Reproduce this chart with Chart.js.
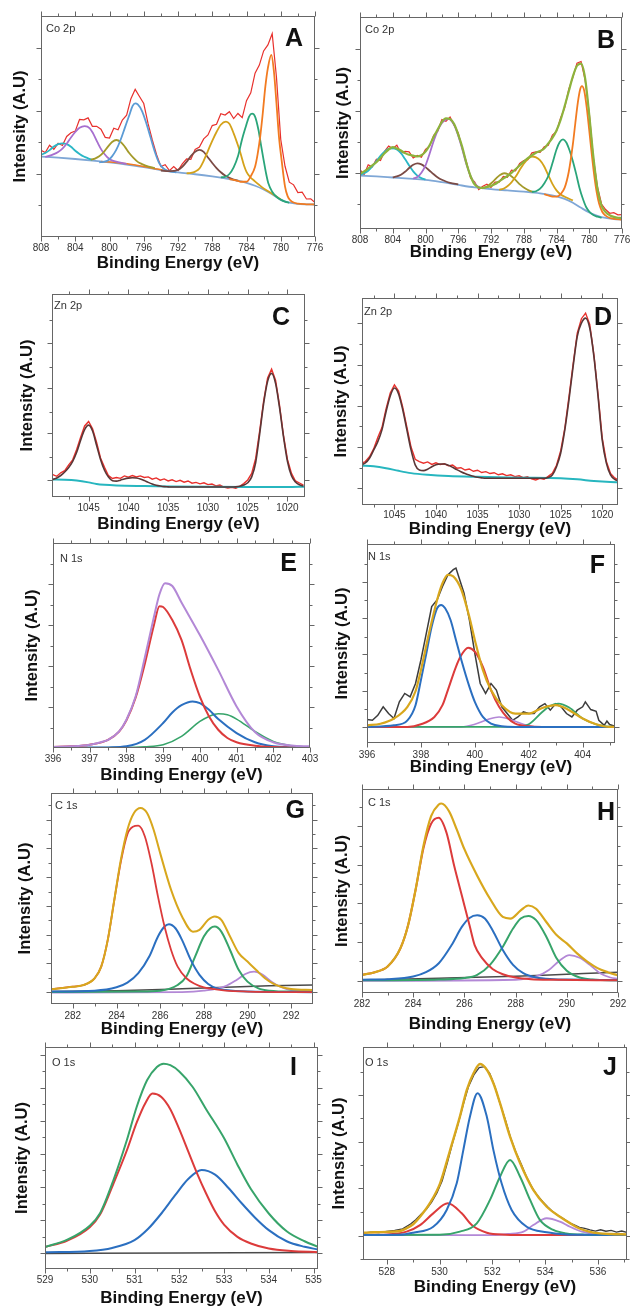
<!DOCTYPE html>
<html>
<head>
<meta charset="utf-8">
<script src="https://cdn.jsdelivr.net/npm/chart.js@4.4.1/dist/chart.umd.min.js"></script>
<style>
  html, body { margin: 0; padding: 0; background: #fff; overflow: hidden; width: 630px; height: 1309px; position: relative; }
  canvas { position: absolute; }
</style>
</head>
<body>
<script>
// ---- energy grids for the raw spectra ----
const gridCo = [808, 807.5, 807, 806.5, 806, 805.5, 805, 804.5, 804, 803.5, 803, 802.5, 802, 801.5, 801, 800.5, 800, 799.5, 799, 798.5,
  798, 797.5, 797, 796.5, 796, 795.5, 795, 794.5, 794, 793.5, 793, 792.5, 792, 791.5, 791, 790.5, 790, 789.5, 789, 788.5,
  788, 787.5, 787, 786.5, 786, 785.5, 785, 784.5, 784, 783.5, 783, 782.5, 782, 781.5, 781, 780.5, 780, 779.5, 779, 778.5,
  778, 777.5, 777, 776.5, 776];
const gridZn = [1049.5, 1049, 1048.5, 1048, 1047.5, 1047, 1046.5, 1046, 1045.5, 1045, 1044.5, 1044, 1043.5, 1043, 1042.5, 1042,
  1041.5, 1041, 1040.5, 1040, 1039.5, 1039, 1038.5, 1038, 1037.5, 1037, 1036.5, 1036, 1035.5, 1035, 1034.5, 1034, 1033.5, 1033,
  1032.5, 1032, 1031.5, 1031, 1030.5, 1030, 1029.5, 1029, 1028.5, 1028, 1027.5, 1027, 1026.5, 1026, 1025.5, 1025, 1024.5, 1024,
  1023.5, 1023, 1022.5, 1022, 1021.5, 1021, 1020.5, 1020, 1019.5, 1019, 1018.5, 1018];

// ---- tick values ----
const coMajor = [808, 804, 800, 796, 792, 788, 784, 780, 776];
const coMinor = [806, 802, 798, 794, 790, 786, 782, 778];
const znMajor = [1045, 1040, 1035, 1030, 1025, 1020];
const znMinor = [1047.5, 1042.5, 1037.5, 1032.5, 1027.5, 1022.5];
const nEMajor = [396, 397, 398, 399, 400, 401, 402, 403];
const nEMinor = [396.5, 397.5, 398.5, 399.5, 400.5, 401.5, 402.5];
const nFMajor = [396, 398, 400, 402, 404];
const nFMinor = [397, 399, 401, 403, 405];
const cMajor = [282, 284, 286, 288, 290, 292];
const cMinor = [283, 285, 287, 289, 291];
const oIMajor = [529, 530, 531, 532, 533, 534, 535];
const oIMinor = [529.5, 530.5, 531.5, 532.5, 533.5, 534.5];
const oJMajor = [528, 530, 532, 534, 536];
const oJMinor = [529, 531, 533, 535, 537];
const yTicks = {
  A: [[28.6, 57.1, 85.7], [14.3, 42.9, 71.4]],
  B: [[26.3, 55.6, 84.9], [11.7, 41.0, 70.2]],
  C: [[8.6, 31.3, 53.5, 75.7], [19.7, 41.9, 64.1, 87.2]],
  D: [[8.1, 28.0, 47.9, 67.8, 87.7], [18.0, 38.0, 57.9, 77.8]],
  E: [[20, 40, 60, 80], [10, 30, 50, 70, 90]],
  F: [[8.1, 26.2, 44.5, 62.6, 80.8], [17.2, 35.3, 53.5, 71.7, 89.9]],
  G: [[5.7, 19.3, 32.9, 46.5, 60.1, 73.7, 87.3], [12.5, 26.1, 39.7, 53.3, 66.9, 80.5, 94.1]],
  H: [[6, 25, 43.9, 62.8, 81.7], [15.5, 34.4, 53.3, 72.2, 91.1]],
  I: [[7.2, 22.1, 37, 51.9, 66.8, 81.7, 96.6], [14.6, 29.5, 44.4, 59.3, 74.2, 89.1]],
  J: [[11.3, 33.6, 55.5, 77.5], [0.4, 22.5, 44.5, 66.5, 88.4]]
};

// ---- A: Co 2p ----
const A_raw = [39.2, 38.2, 41.5, 39.7, 42.4, 41.4, 45.5, 47.2, 47.9, 53.2,
  53.0, 53.9, 50.1, 50.1, 48.8, 45.1, 44.8, 49.2, 48.5, 52.9,
  55.1, 62.6, 66.8, 63.6, 60.4, 51.4, 43.9, 37.2, 31.9, 32.7,
  30.0, 31.9, 30.1, 33.1, 35.3, 35.1, 39.6, 40.7, 44.4, 46.2,
  50.4, 51.0, 55.8, 55.2, 56.7, 53.6, 55.9, 54.0, 61.7, 65.2,
  74.1, 77.8, 84.2, 86.9, 92.0, 72.3, 44.1, 32.0, 24.8, 23.6,
  20.1, 20.3, 17.2, 17.3, 15.6];
const A_bg = [[808, 36.4], [806, 35.9], [804, 35.3], [802, 34.6], [800, 33.8], [798, 32.8], [796, 31.6], [794, 30.3], [792, 29.2],
  [790, 28.4], [788, 27.4], [786, 26.2], [785, 25.5], [784, 24.5], [783, 23.2], [782, 21.5], [781, 19.3], [780, 16.8], [779, 15.5],
  [778, 15.0], [776, 14.7]];
const A_cyan = [[808, 37.2], [807.5, 38.0], [807, 39.3], [806.5, 40.9], [806, 42.0], [805.5, 42.4], [805, 42.0], [804.5, 40.8],
  [804, 39.0], [803.5, 37.6], [803, 36.4], [802.5, 35.6], [802, 34.9]];
const A_purple = [[807.5, 36.2], [806.5, 37.5], [806, 38.5], [805.5, 40.0], [805, 42.2], [804.5, 45], [804, 47.5], [803.5, 49.4],
  [802.9, 50.2], [802.3, 49.2], [801.9, 46.8], [801.4, 42.8], [800.9, 39.2], [800.3, 36.3], [799.8, 34.8], [799, 33.9], [798, 33.0]];
const A_olive = [[802.2, 35.0], [801.7, 35.5], [801.2, 36.5], [800.7, 38.3], [800.2, 40.8], [799.7, 43.0], [799.2, 43.9], [798.7, 43.0],
  [798.2, 40.8], [797.7, 38.0], [797.2, 35.8], [796.7, 34.0], [796.2, 33.0], [795.7, 32.2], [794.7, 31.2]];
const A_steel = [[801.2, 33.8], [800.7, 34.0], [800.2, 34.6], [799.7, 36.5], [799.2, 39.5], [798.7, 44], [798.2, 49.5], [797.7, 55],
  [797.3, 59.3], [797.0, 60.5], [796.7, 60], [796.2, 57], [795.7, 51.5], [795.2, 45], [794.7, 38.5], [794.2, 33.5], [793.7, 31.0],
  [793.2, 30.0], [792.2, 29.2]];
const A_sat = [[801, 34.2], [799, 33.6], [797, 32.6], [795, 31.1], [793, 29.8]];
const A_brown = [[794, 30.0], [793, 29.8], [792, 30.4], [791.5, 31.8], [791, 34.0], [790.5, 36.6], [790, 38.6], [789.5, 39.4],
  [789, 38.5], [788.5, 36], [788, 33.5], [787.5, 31.2], [787, 29.3], [786.5, 27.8], [786, 26.8], [785.5, 26.0], [785, 25.5]];
const A_gold = [[791, 28.8], [790.5, 29.0], [790, 29.6], [789.5, 31], [789, 34.5], [788.5, 39], [788, 43.5], [787.5, 47.5], [787, 50.8],
  [786.4, 52.2], [786, 51.2], [785.5, 46.9], [785, 41.5], [784.7, 37.9], [784.3, 32.5], [784, 29.5], [783.5, 26.8], [783.2, 25.8],
  [782.5, 23.5], [782, 22], [781, 19.6], [780, 17.0]];
const A_green = [[787, 27.0], [786.5, 27.2], [786, 28.5], [785.5, 31.5], [785, 36.5], [784.5, 44.5], [784, 51], [783.7, 54.5],
  [783.35, 55.8], [783, 54.5], [782.6, 48.4], [782.3, 41.5], [782, 34.8], [781.7, 28.5], [781.45, 24.3], [781, 20.5], [780.5, 18.2],
  [780, 16.9], [779.5, 16.0], [779, 15.5]];
const A_orange = [[786, 26.2], [785, 25.4], [784.7, 25.0], [784, 25.0], [783.5, 27.5], [783, 31.8], [782.7, 37.5], [782.4, 45.4],
  [782.1, 56], [781.8, 68], [781.5, 76.5], [781.1, 82.4], [780.8, 75], [780.5, 60.5], [780.2, 45], [779.9, 34.8], [779.5, 22.8],
  [779.2, 18.5], [778.9, 16.7], [778.5, 15.6], [778, 15.1], [777, 14.8], [776, 14.7]];

// ---- B: Co 2p ----
const B_raw = [28.0, 25.7, 30.3, 29.3, 32.9, 32.3, 36.6, 39.1, 38.0, 39.5,
  35.7, 36.6, 36.4, 33.5, 34.7, 33.9, 37.5, 39.1, 44.2, 46.2,
  51.6, 50.8, 52.8, 49.0, 45.3, 37.9, 31.7, 24.1, 22.2, 18.6,
  20.2, 21.1, 19.6, 22.1, 22.1, 24.8, 24.4, 27.7, 27.4, 30.9,
  32.3, 32.7, 35.9, 36.4, 36.2, 38.8, 39.5, 44.3, 46.0, 52.4,
  57.2, 66.0, 71.5, 78.2, 79.0, 70.2, 54.7, 33.6, 20.0, 11.8,
  9.2, 7.4, 7.7, 6.7, 6.8];
const B_fit = [26.0, 27.2, 28.5, 30.0, 31.5, 33.5, 35.7, 37.5, 38.6, 38.0,
  37.0, 35.8, 35.0, 34.6, 34.2, 34.8, 36.5, 39.5, 43.5, 47.0,
  50.5, 52.2, 51.9, 49.5, 44.5, 38.5, 31.0, 25.0, 21.0, 19.6,
  19.4, 19.8, 20.3, 21.2, 22.5, 23.8, 25.0, 26.5, 28.2, 30.0,
  31.8, 33.4, 34.8, 36.0, 36.8, 38.0, 40.4, 43.0, 46.5, 51.5,
  58.0, 65.0, 72.0, 77.0, 78.0, 71.0, 53.8, 34.2, 19.0, 11.0,
  8.0, 6.5, 5.7, 5.3, 5.2];
const B_bg = [[808, 25.2], [806, 24.8], [804, 24.3], [802, 23.8], [800, 23.2], [798, 22.1], [796, 20.8], [794, 19.6], [792, 18.8],
  [790, 18.2], [788, 17.6], [786, 16.8], [784, 15.4], [783, 14.2], [782, 12.4], [781, 10.0], [780, 7.8], [779, 6.2], [778, 5.2],
  [777, 4.7], [776, 4.4]];
const B_cyan = [[808, 25.5], [807.5, 26.3], [807, 27.5], [806.5, 29.5], [806, 32], [805.5, 34.5], [805, 36.5], [804.5, 37.8], [804, 38.1],
  [803.5, 37.5], [803, 35.8], [802.5, 33], [802, 30], [801.5, 27.2], [801, 25.2], [800.5, 24], [800, 23.4]];
const B_brown = [[804, 24.4], [803.5, 24.8], [803, 25.6], [802.5, 27], [802, 28.8], [801.5, 30.3], [801, 31], [800.5, 30.5], [800, 29.2],
  [799.5, 27.5], [799, 25.8], [798.5, 24.3], [798, 23.2], [797.5, 22.4], [797, 21.8], [796, 21]];
const B_purple = [[801.5, 23.8], [801, 24.5], [800.5, 26.5], [800, 30], [799.5, 35.5], [799, 41.5], [798.5, 46.5], [798, 50],
  [797.5, 51.7], [797.2, 51.9], [796.5, 49], [796, 44], [795.5, 37.5], [795, 30.5], [794.5, 25], [794, 21.5], [793.5, 19.8], [793, 19.2]];
const B_olive = [[793.4, 19.2], [792.9, 19.5], [792.4, 20.3], [791.9, 21.8], [791.4, 23.8], [790.9, 25.5], [790.4, 26.3], [789.9, 25.8],
  [789.4, 24.5], [788.9, 22.7], [788.4, 20.8], [787.9, 19.3], [787.4, 18.2], [786.9, 17.5]];
const B_gold = [[791, 18.5], [790.5, 19.0], [790, 20.2], [789.5, 22], [789, 24.6], [788.5, 27.8], [788, 30.8], [787.5, 33], [787, 34.2],
  [786.5, 33.8], [786, 32.4], [785.5, 29.5], [785, 25.3], [784.5, 21.3], [784, 18.2], [783.5, 16.3], [783, 15.2], [782, 13.5]];
const B_green = [[787, 17.5], [786.5, 17.8], [786, 19.0], [785.5, 21.5], [785, 25], [784.5, 31], [784, 37.5], [783.6, 41], [783.2, 42.3],
  [782.8, 40.8], [782.4, 37], [782, 32], [781.6, 26], [781.2, 19.5], [780.8, 14.5], [780.4, 10.5], [780, 8.2], [779.5, 6.6], [779, 5.8],
  [778.5, 5.3]];
const B_orange = [[785.5, 16.4], [785, 15.8], [784.5, 15.3], [784, 15.3], [783.5, 16.5], [783, 19.5], [782.5, 27], [782, 40], [781.7, 50],
  [781.4, 59.5], [781.1, 66], [780.9, 67.4], [780.6, 65], [780.3, 57], [780, 46.5], [779.7, 35.5], [779.4, 25.5], [779.1, 17.5],
  [778.8, 12], [778.4, 8], [778, 6.3], [777.5, 5.2], [777, 4.8], [776, 4.4]];

// ---- C, D: Zn 2p ----
const C_raw = [11.0, 10.2, 11.9, 13.0, 15.8, 18.3, 23.4, 29.5, 35.0, 37.2,
  33.6, 27.0, 19.2, 14.6, 10.5, 9.1, 9.6, 9.2, 10.4, 9.8,
  10.6, 9.9, 10.4, 9.6, 9.9, 8.8, 9.4, 8.3, 8.9, 7.9,
  8.5, 7.6, 8.2, 7.3, 7.9, 6.8, 7.2, 6.5, 7.0, 6.1,
  6.4, 5.5, 5.9, 4.9, 4.4, 4.8, 4.3, 5.2, 6.6, 8.4,
  11.6, 19.0, 32.5, 47.3, 58.6, 63.0, 57.5, 45.1, 30.2, 18.4,
  11.6, 7.9, 6.9, 5.8];
const C_fit = [8.6, 9.4, 10.6, 12.3, 14.5, 17.5, 22, 28, 33.2, 35.4,
  32.5, 25.5, 18.5, 13.2, 9.8, 8.0, 7.8, 8.3, 8.9, 9.3,
  9.5, 9.4, 8.9, 8.1, 7.2, 6.4, 5.8, 5.4, 5.1, 5.0,
  4.9, 4.9, 4.9, 4.9, 4.9, 4.9, 4.9, 4.9, 4.9, 4.9,
  4.9, 4.9, 4.9, 4.9, 4.9, 4.9, 5.0, 5.3, 5.9, 7.0,
  9.9, 17, 31, 46, 57, 60.9, 56, 44, 29.6, 17.5,
  10.5, 7.4, 6.0, 5.4];
const C_bg = [[1049.6, 8.6], [1048, 8.5], [1046.5, 8.1], [1045, 7.2], [1044, 6.4], [1043, 6.0], [1041.5, 5.7], [1038, 5.4],
  [1035, 5.2], [1030, 5.0], [1025, 4.9], [1020, 4.9], [1017.8, 5.1]];
const D_raw = [19.5, 20.1, 21.0, 23.3, 27.1, 32.6, 37.4, 46.5, 54.1, 58.0,
  55.0, 47.3, 37.6, 28.0, 22.1, 21.0, 20.2, 20.8, 19.6, 20.4,
  19.5, 19.9, 18.9, 19.3, 17.8, 18.0, 16.9, 17.4, 16.3, 16.8,
  15.7, 16.1, 15.2, 15.6, 14.6, 15.1, 14.2, 14.6, 13.7, 14.1,
  13.2, 13.6, 12.6, 12.1, 12.9, 12.4, 13.8, 15.3, 19.2, 26.1,
  37.0, 52.3, 68.1, 83.0, 90.0, 92.7, 87.2, 72.6, 53.5, 32.4,
  21.0, 15.2, 13.1, 12.0];
const D_fit = [19.0, 19.4, 20.3, 22.6, 26.5, 30.6, 36.3, 45.2, 52.7, 56.5,
  53.7, 46.0, 36.3, 26.6, 19.4, 16.9, 16.6, 17.3, 18.5, 19.4,
  19.8, 19.8, 19.2, 18.2, 17.1, 16.1, 15.2, 14.5, 13.9, 13.4,
  13.1, 12.9, 12.9, 12.9, 12.9, 12.9, 12.9, 12.9, 12.9, 12.9,
  12.9, 12.9, 12.9, 12.9, 12.9, 12.9, 13.3, 14.5, 18.5, 25.0,
  36.3, 50.8, 66.9, 81.5, 87.9, 90.3, 85.5, 71.8, 52.4, 31.5,
  20.2, 14.5, 12.4, 11.6];
const D_bg = [[1049.5, 19.1], [1049, 19], [1047.5, 18.7], [1046, 17.8], [1044.5, 16.5], [1043, 15.4], [1041, 14.6], [1038.5, 14.0],
  [1035, 13.6], [1030, 13.2], [1025, 12.9], [1023, 12.4], [1021, 11.6], [1019, 11.1], [1018, 11.0]];

// ---- E, F: N 1s ----
const E_env = [[396, 0.5], [396.5, 0.8], [397, 1.6], [397.3, 2.8], [397.5, 4], [397.8, 8.1], [398, 13.8], [398.25, 25.1], [398.5, 44],
  [398.75, 64], [398.9, 75], [399.05, 80.4], [399.25, 79], [399.5, 71], [400, 55.1], [400.5, 38.1], [401, 20.3], [401.5, 7.8], [402, 2.8],
  [402.5, 1.2], [403, 0.8]];
const E_red = [[396, 0.5], [396.5, 0.8], [397, 1.6], [397.5, 4], [397.8, 8.0], [398, 13.5], [398.25, 24.5], [398.5, 41], [398.75, 60],
  [398.9, 69.2], [399, 68.8], [399.25, 62.4], [399.5, 52.7], [399.75, 38.1], [400, 25.1], [400.25, 15.4], [400.5, 8.9], [400.75, 4.9],
  [401, 2.8], [401.5, 1.1], [402, 0.5], [403, 0.2]];
const E_blue = [[396, 0.1], [397, 0.2], [397.5, 0.3], [398, 0.8], [398.5, 4], [399, 12.2], [399.25, 17.3], [399.5, 20.9], [399.8, 22.7],
  [400, 21.9], [400.25, 18.6], [400.5, 14.1], [401, 7.3], [401.5, 2.8], [402, 0.8], [402.5, 0.3], [403, 0.2]];
const E_green = [[396, 0.1], [398, 0.2], [398.5, 0.6], [399, 1.6], [399.5, 5.7], [400, 13], [400.25, 15.4], [400.5, 16.7], [400.75, 16.2],
  [401, 14.1], [401.5, 8.1], [402, 3.2], [402.5, 1.1], [403, 0.5]];
const F_raw = [[396, 11.8], [396.2, 11.4], [396.4, 13.9], [396.6, 18.2], [396.8, 14.8], [397, 12.3], [397.2, 20.7], [397.4, 24.9],
  [397.6, 23.2], [397.8, 29.9], [398, 41.7], [398.2, 55.1], [398.4, 68.6], [398.6, 71.9], [398.8, 78.7], [399, 84.5], [399.2, 87.1],
  [399.3, 87.9], [399.4, 83.7], [399.6, 75.3], [399.8, 61.8], [400, 45], [400.2, 29.9], [400.4, 24.9], [400.6, 29.9], [400.8, 26.6],
  [401, 18.2], [401.2, 14.8], [401.4, 11.4], [401.6, 13.1], [401.8, 15.6], [402, 14.8], [402.2, 14.8], [402.4, 18.2], [402.6, 19.8],
  [402.8, 16.5], [403, 19.8], [403.2, 18.2], [403.4, 14.8], [403.6, 13.1], [403.8, 16.5], [404, 18.2], [404.1, 20.7], [404.3, 16.8],
  [404.5, 15.9], [404.6, 11.4], [404.8, 8.9], [404.9, 11.0], [405, 9.3], [405.2, 8.4]];
const F_env = [[396, 8.9], [396.5, 9.7], [397, 12.3], [397.5, 18.2], [397.8, 26], [398, 36.6], [398.3, 55.1], [398.6, 71.9], [398.8, 80.3],
  [399, 84.5], [399.2, 83.7], [399.5, 77], [399.8, 63.2], [400, 51.8], [400.3, 36.6], [400.6, 26.6], [401, 19], [401.5, 14.8],
  [402, 14.8], [402.5, 17.6], [403, 19], [403.5, 16.5], [404, 12.3], [404.5, 9.4], [405, 8.1], [405.2, 8.1]];
const F_blue = [[396, 8.1], [397, 8.9], [397.5, 11.4], [397.8, 19], [398, 31.6], [398.2, 45], [398.4, 58.5], [398.6, 67.7], [398.75, 69.4],
  [398.9, 67.7], [399.1, 61.8], [399.3, 51.8], [399.5, 41.7], [399.8, 28.2], [400, 20.7], [400.3, 13.1], [400.6, 9.7], [401, 8.4],
  [401.5, 8.1], [405.2, 8.1]];
const F_red = [[396, 8.1], [397.5, 8.1], [398, 9.4], [398.5, 13.1], [398.8, 19], [399, 26.6], [399.3, 38.3], [399.5, 44.2], [399.75, 47.9],
  [400, 45.9], [400.3, 38.3], [400.6, 26.6], [400.9, 18.2], [401.2, 12.8], [401.5, 9.7], [402, 8.4], [402.5, 8.1], [405.2, 8.1]];
const F_purple = [[396, 8.1], [399.5, 8.1], [400, 9.4], [400.5, 11.9], [400.9, 13.1], [401.3, 11.9], [401.8, 9.4], [402.3, 8.1], [405.2, 8.1]];
const F_green = [[396, 8.1], [401.5, 8.1], [402, 9.4], [402.5, 15.6], [402.8, 18.7], [403.1, 19.8], [403.5, 17.8], [404, 12.3],
  [404.5, 9.4], [405, 8.2], [405.2, 8.1]];

// ---- G, H: C 1s ----
const G_env = [[281, 7], [282, 8.2], [282.5, 9], [283, 12.2], [283.3, 17.7], [283.6, 30.4], [283.9, 49.4], [284.2, 68.4], [284.5, 82.6],
  [284.8, 90.5], [285.1, 92.9], [285.4, 90.5], [285.7, 82.6], [286, 71.5], [286.5, 54.1], [287, 41.5], [287.5, 34.3], [287.8, 35.1],
  [288.2, 39.9], [288.5, 41.5], [288.8, 39.9], [289.2, 32], [289.6, 24.1], [290, 20.1], [290.4, 16.1], [290.8, 12.2], [291.2, 9.5],
  [291.6, 7.9], [292, 7.1], [293, 6.6]];
const G_red = [[281, 7], [282, 8.2], [282.5, 9], [283, 12.2], [283.3, 17.7], [283.6, 30.4], [283.9, 49.2], [284.2, 67.5], [284.5, 80.5],
  [284.75, 84], [285, 84.5], [285.3, 79.4], [285.6, 66.8], [285.9, 50.9], [286.2, 36.7], [286.5, 25.6], [286.8, 17.7], [287.2, 12.2],
  [287.6, 9.5], [288, 7.9], [288.5, 7], [289, 6.3], [290, 5.9], [293, 5.6]];
const G_blue = [[281, 5.9], [283, 6.3], [284, 7.9], [284.5, 10.1], [285, 14.6], [285.5, 22.5], [285.9, 32], [286.2, 36.7], [286.4, 37.8],
  [286.7, 35.9], [287, 30.4], [287.4, 20.9], [287.8, 13.8], [288.2, 9.5], [288.6, 7.4], [289, 6.6], [290, 5.9], [293, 5.6]];
const G_green = [[281, 5.7], [285, 5.9], [286, 6.3], [286.8, 9], [287.2, 13], [287.6, 22.5], [288, 32], [288.3, 35.9], [288.5, 36.7],
  [288.8, 34.3], [289.2, 25.6], [289.6, 16.1], [290, 10.6], [290.5, 7.4], [291, 6.3], [292, 5.9], [293, 5.9]];
const G_purple = [[281, 5.4], [287, 5.6], [288, 6.3], [289, 8.5], [289.5, 11.4], [289.9, 14.2], [290.3, 15.3], [290.7, 13.8],
  [291.1, 10.6], [291.5, 8.2], [292, 6.6], [293, 6.0]];
const G_base = [[281, 5.9], [284, 6.3], [287, 7.2], [289, 7.9], [291, 8.6], [293, 9.0]];
const H_env = [[282, 8.9], [282.5, 10.2], [283, 13], [283.5, 21.9], [283.8, 33.2], [284.1, 51.1], [284.4, 72.1], [284.7, 86.7], [285, 92.4],
  [285.1, 92.9], [285.4, 89.1], [285.7, 80.2], [286, 70.5], [286.5, 57.5], [287, 46.2], [287.5, 37.3], [287.8, 36.5], [288.2, 40.5],
  [288.5, 42.9], [288.8, 41.3], [289.2, 34.8], [289.6, 28.4], [290, 24.3], [290.4, 19.4], [290.8, 15.4], [291.2, 12.2], [291.6, 10.2],
  [292, 8.6]];
const H_red = [[282, 8.9], [282.5, 10.2], [283, 13], [283.5, 21.9], [283.8, 33.2], [284.1, 51], [284.4, 71], [284.7, 83], [285, 85.9],
  [285.3, 78.6], [285.6, 62.4], [285.9, 47.8], [286.2, 33.2], [286.4, 23.5], [286.7, 17], [287.1, 11.8], [287.5, 9.2], [288, 7.6],
  [288.6, 6.8], [289.5, 6.5], [292, 6.2]];
const H_blue = [[282, 6.5], [283, 6.8], [284, 8.1], [284.5, 10.2], [285, 14.6], [285.5, 23.5], [285.9, 32.4], [286.2, 36.8], [286.5, 38.1],
  [286.8, 36.5], [287.1, 30.8], [287.5, 21.1], [287.9, 13.8], [288.3, 9.7], [288.8, 7.6], [289.5, 6.8], [290, 6.6], [292, 6.2]];
const H_green = [[282, 6.2], [285, 6.6], [286, 7.3], [286.5, 8.9], [287, 13.8], [287.5, 22.7], [287.9, 31.6], [288.2, 36.5], [288.5, 37.8],
  [288.8, 35.7], [289.2, 27.6], [289.6, 17], [290, 10.9], [290.5, 7.6], [291, 6.6], [292, 6.2]];
const H_purple = [[282, 6.0], [288, 6.5], [288.8, 8.1], [289.3, 11.3], [289.7, 15.7], [290.1, 18.6], [290.5, 17.3], [290.9, 13.8],
  [291.3, 9.7], [291.7, 7.6], [292, 7.0]];
const H_base = [[282, 6.4], [285, 7.2], [288, 8.2], [290, 9.2], [292, 10.2]];

// ---- I, J: O 1s ----
const I_env = [[529, 9.9], [529.5, 13.2], [530, 19.5], [530.23, 25.1], [530.53, 40.1], [530.83, 58.1], [531.05, 73.1], [531.28, 85],
  [531.5, 91], [531.65, 92.5], [531.8, 91.8], [532, 89], [532.3, 82], [532.6, 72], [533, 59], [533.3, 47], [533.6, 36], [534, 25],
  [534.4, 17], [534.8, 12.5], [535.1, 10]];
const I_red = [[529, 9.9], [529.5, 12.8], [530, 18.8], [530.23, 24.5], [530.53, 38.5], [530.83, 53.5], [531.05, 66], [531.25, 75],
  [531.4, 79], [531.6, 77.5], [531.8, 72], [532, 63], [532.2, 53], [532.4, 43], [532.6, 34], [532.8, 26], [533, 20], [533.3, 14.5],
  [533.6, 11.5], [534, 9.2], [534.5, 8.1], [535.1, 7.6]];
const I_blue = [[529, 7.5], [530, 8.1], [530.5, 9.5], [531, 13], [531.3, 18], [531.6, 25], [531.9, 33], [532.2, 40.5], [532.5, 44.6],
  [532.8, 42.5], [533.1, 36.5], [533.4, 29.5], [533.7, 23], [534, 17.5], [534.4, 12.5], [534.8, 10], [535.1, 8.8]];
const I_base = [[529, 7.0], [532, 7.2], [535.1, 7.4]];
const J_raw = [[527.1, 12.6], [527.4, 13.1], [527.7, 12.9], [528, 13.4], [528.3, 13.9], [528.6, 14.6], [528.9, 16.9], [529.1, 18.9],
  [529.3, 21.5], [529.5, 23.8], [529.7, 27.2], [529.9, 31.5], [530.1, 37.2], [530.3, 45.9], [530.5, 55.2], [530.7, 63.8], [530.9, 73.1],
  [531.1, 81.5], [531.3, 86.9], [531.5, 90.3], [531.7, 90.8], [531.9, 87.6], [532.1, 81.2], [532.3, 73.1], [532.5, 65.5], [532.7, 57.0],
  [532.9, 50.4], [533.1, 44.8], [533.3, 38.9], [533.5, 34.1], [533.7, 30.4], [533.9, 27.5], [534.1, 24.9], [534.3, 22.6], [534.5, 20.8],
  [534.7, 19.4], [534.9, 17.6], [535.1, 16.5], [535.3, 15.3], [535.5, 14.8], [535.7, 14.1], [535.9, 13.6], [536.1, 14.2], [536.3, 13.5],
  [536.5, 13.9], [536.7, 13.1], [536.9, 13.6], [537.1, 13.0]];
const J_env = [[527.1, 12.8], [527.5, 13.0], [528, 13.2], [528.5, 13.6], [528.75, 14.9], [529, 16.8], [529.26, 20.3], [529.64, 26.8],
  [530.02, 36], [530.4, 51.6], [530.77, 67.3], [531.03, 79.8], [531.3, 88], [531.53, 92], [531.75, 90], [532.04, 83], [532.29, 73.6],
  [532.67, 57.9], [533.05, 45.5], [533.55, 32.9], [534.06, 25], [534.56, 20.3], [534.94, 17.3], [535.3, 14.8], [535.7, 13.2],
  [536, 12.6], [536.5, 12.2], [537.1, 12.0]];
const J_blue = [[527.1, 11.7], [528.5, 11.8], [529, 12.8], [529.76, 15.6], [530.27, 23.5], [530.65, 36], [530.9, 51.6], [531.15, 67.3],
  [531.44, 78.3], [531.79, 67.3], [532.04, 51.6], [532.35, 36], [532.73, 23.5], [533.3, 15.6], [534.06, 13.0], [534.8, 12.0],
  [535.5, 11.8], [537.1, 11.7]];
const J_red = [[527.1, 11.8], [528, 12.0], [528.75, 13.3], [529.26, 16.4], [529.76, 21.9], [530.31, 26.6], [530.84, 21.9], [531.22, 16.4],
  [531.79, 12.8], [532.5, 11.9], [533.5, 11.7], [537.1, 11.7]];
const J_green = [[527.1, 11.7], [530, 11.8], [530.77, 13.3], [531.41, 17.2], [531.91, 28.2], [532.29, 39.1], [532.67, 47], [533.05, 39.1],
  [533.43, 28.2], [533.8, 18.8], [534.31, 14.1], [534.8, 12.5], [535.5, 11.9], [537.1, 11.7]];
const J_purple = [[527.1, 11.7], [532, 11.7], [532.6, 12.2], [533.18, 13.3], [533.55, 16.4], [534.06, 19.6], [534.56, 18], [534.94, 15.6],
  [535.4, 13.3], [536, 12.0], [537.1, 11.7]];

// ---- styling ----
const FONT = '"Liberation Sans", Arial, Helvetica, sans-serif';
const COL = {
  raw: '#e8302c', coBg: '#7fa7d6', cyan: '#2bb7c6', purple: '#a76fcf', olive: '#a49a2a', steel: '#5b9bd5',
  orange: '#f27b21', brown: '#7b4b45', gold: '#d4a21a', teal: '#2aa57a', lime: '#8db33c',
  znBg: '#27b6bf', znFit: '#5b3636', lilac: '#b388d6', red: '#dc3b3b', blue: '#2b6fc0', green: '#37a46a',
  dark: '#4a4a4a', ink: '#3c3c3c', amber: '#d8a71d'
};

// page positions of each panel: plot box [left, top, right, bottom], label/title centres, letter & tag tops
const layout = {
  A: {box: [41, 16, 315, 237], labelY: 248, titleY: 264, yTitleX: 21, letter: [303, 28], tag: [46, 24]},
  B: {box: [360, 17, 622, 229], labelY: 240, titleY: 253, yTitleX: 344, letter: [615, 30], tag: [365, 25]},
  C: {box: [52, 294, 305, 497], labelY: 508, titleY: 525, yTitleX: 28, letter: [290, 307], tag: [54, 301]},
  D: {box: [362, 298, 618, 505], labelY: 515, titleY: 530, yTitleX: 342, letter: [612, 307], tag: [364, 307]},
  E: {box: [53, 543, 310, 748], labelY: 759, titleY: 776, yTitleX: 33, letter: [297, 553], tag: [60, 554]},
  F: {box: [367, 544, 615, 743], labelY: 755, titleY: 768, yTitleX: 343, letter: [605, 555], tag: [368, 552]},
  G: {box: [51, 793, 313, 1004], labelY: 1016, titleY: 1030, yTitleX: 26, letter: [305, 800], tag: [55, 801]},
  H: {box: [362, 789, 618, 993], labelY: 1004, titleY: 1025, yTitleX: 343, letter: [615, 802], tag: [368, 798]},
  I: {box: [45, 1047, 318, 1269], labelY: 1280, titleY: 1299, yTitleX: 23, letter: [297, 1057], tag: [52, 1058]},
  J: {box: [363, 1047, 627, 1260], labelY: 1272, titleY: 1288, yTitleX: 340, letter: [617, 1057], tag: [365, 1058]}
};

const P = pairs => pairs.map(([x, y]) => ({x, y}));
const onGrid = (grid, ys) => ys.map((y, i) => ({x: grid[i], y}));

function curve(data, color, width, smooth = true) {
  return {
    data, borderColor: color, borderWidth: width, pointRadius: 0, fill: false,
    tension: smooth ? 0.4 : 0, cubicInterpolationMode: smooth ? 'monotone' : 'default'
  };
}

const panels = [
  {id: 'A', tag: 'Co 2p', range: [776, 808], reverse: true, xt: [coMajor, coMinor], series: [
    curve(P(A_orange), COL.orange, 1.8), curve(P(A_green), COL.teal, 1.8), curve(P(A_gold), COL.gold, 1.8),
    curve(P(A_brown), COL.brown, 1.8), curve(P(A_steel), COL.steel, 1.8), curve(P(A_olive), COL.olive, 1.8),
    curve(P(A_purple), COL.purple, 1.8), curve(P(A_cyan), COL.cyan, 1.8), curve(P(A_sat), COL.orange, 1.5),
    curve(P(A_bg), COL.coBg, 1.8), curve(onGrid(gridCo, A_raw), COL.raw, 1.2, false)]},
  {id: 'B', tag: 'Co 2p', range: [776, 808], reverse: true, xt: [coMajor, coMinor], series: [
    curve(onGrid(gridCo, B_fit), COL.lime, 2.2), curve(P(B_orange), COL.orange, 1.8), curve(P(B_green), COL.teal, 1.8),
    curve(P(B_gold), COL.gold, 1.8), curve(P(B_olive), COL.olive, 1.8), curve(P(B_purple), COL.purple, 1.8),
    curve(P(B_brown), COL.brown, 1.8), curve(P(B_cyan), COL.cyan, 1.8), curve(P(B_bg), COL.coBg, 1.8),
    curve(onGrid(gridCo, B_raw), COL.raw, 1.2, false)]},
  {id: 'C', tag: 'Zn 2p', range: [1017.8, 1049.6], reverse: true, xt: [znMajor, znMinor], series: [
    curve(onGrid(gridZn, C_fit), COL.znFit, 1.6), curve(P(C_bg), COL.znBg, 2), curve(onGrid(gridZn, C_raw), COL.raw, 1.4, false)]},
  {id: 'D', tag: 'Zn 2p', range: [1018.1, 1048.9], reverse: true, xt: [znMajor, znMinor], series: [
    curve(onGrid(gridZn, D_fit), COL.znFit, 1.6), curve(P(D_bg), COL.znBg, 2), curve(onGrid(gridZn, D_raw), COL.raw, 1.4, false)]},
  {id: 'E', tag: 'N 1s', range: [396, 403], reverse: false, xt: [nEMajor, nEMinor], series: [
    curve(P(E_env), COL.lilac, 2), curve(P(E_red), COL.red, 2), curve(P(E_blue), COL.blue, 2), curve(P(E_green), COL.green, 1.6)]},
  {id: 'F', tag: 'N 1s', range: [396, 405.2], reverse: false, xt: [nFMajor, nFMinor], series: [
    curve(P(F_env), COL.amber, 2.2), curve(P(F_blue), COL.blue, 2), curve(P(F_red), COL.red, 2), curve(P(F_green), COL.green, 1.8),
    curve(P(F_purple), COL.lilac, 1.6), curve(P(F_raw), COL.ink, 1.5, false)]},
  {id: 'G', tag: 'C 1s', range: [281, 293], reverse: false, xt: [cMajor, cMinor], series: [
    curve(P(G_env), COL.amber, 2), curve(P(G_red), COL.red, 1.8), curve(P(G_blue), COL.blue, 2), curve(P(G_green), COL.green, 2),
    curve(P(G_purple), COL.lilac, 1.8), curve(P(G_base), COL.dark, 1.5)]},
  {id: 'H', tag: 'C 1s', range: [282, 292], reverse: false, xt: [cMajor, cMinor], series: [
    curve(P(H_env), COL.amber, 2.2), curve(P(H_red), COL.red, 2), curve(P(H_blue), COL.blue, 2), curve(P(H_green), COL.green, 2),
    curve(P(H_purple), COL.lilac, 1.8), curve(P(H_base), COL.dark, 1.5)]},
  {id: 'I', tag: 'O 1s', range: [529, 535.1], reverse: false, xt: [oIMajor, oIMinor], series: [
    curve(P(I_env), COL.green, 2), curve(P(I_red), COL.red, 2), curve(P(I_blue), COL.blue, 2), curve(P(I_base), COL.dark, 1.5)]},
  {id: 'J', tag: 'O 1s', range: [527.1, 537.1], reverse: false, xt: [oJMajor, oJMinor], series: [
    curve(P(J_env), COL.amber, 2.4), curve(P(J_raw), COL.ink, 1.3, false), curve(P(J_blue), COL.blue, 2),
    curve(P(J_green), COL.green, 2), curve(P(J_red), COL.red, 2), curve(P(J_purple), COL.lilac, 1.8)]}
];

// frame with outward major/minor ticks on all four sides, panel letter and core-level tag
const framePlugin = {
  id: 'frame',
  afterDatasetsDraw(chart, args, o) {
    const {ctx, chartArea: a, scales: {x, y}} = chart;
    ctx.save();
    ctx.strokeStyle = '#666';
    ctx.lineWidth = 1;
    const L = Math.round(a.left) + 0.5, R = Math.round(a.right) - 0.5;
    const T = Math.round(a.top) + 0.5, B = Math.round(a.bottom) - 0.5;
    ctx.strokeRect(L, T, R - L, B - T);
    ctx.beginPath();
    const xt = (vals, len) => vals.forEach(v => {
      const px = Math.round(x.getPixelForValue(v)) + 0.5;
      ctx.moveTo(px, B); ctx.lineTo(px, B + len);
      ctx.moveTo(px, T); ctx.lineTo(px, T - len);
    });
    const yt = (vals, len) => vals.forEach(v => {
      const py = Math.round(y.getPixelForValue(v)) + 0.5;
      ctx.moveTo(L, py); ctx.lineTo(L - len, py);
      ctx.moveTo(R, py); ctx.lineTo(R + len, py);
    });
    xt(o.xMajor, 5); xt(o.xMinor, 3);
    yt(o.yMajor, 5); yt(o.yMinor, 3);
    ctx.stroke();

    ctx.fillStyle = '#111';
    ctx.font = 'bold 25px ' + FONT;
    ctx.textAlign = 'right';
    ctx.textBaseline = 'alphabetic';
    ctx.fillText(o.letter, o.letterPos[0], o.letterPos[1] + 18);
    ctx.fillStyle = '#333';
    ctx.font = '11px ' + FONT;
    ctx.textAlign = 'left';
    ctx.fillText(o.tag, o.tagPos[0], o.tagPos[1] + 8);
    ctx.restore();
  }
};

function build(p) {
  const Lay = layout[p.id];
  const [l, t, r, b] = Lay.box;
  const cx = Math.round(Lay.yTitleX - 10), cy = t - 14;
  const w = r + 16 - cx, h = Math.round(Lay.titleY + 10) - cy;
  const cv = document.createElement('canvas');
  cv.width = w; cv.height = h;
  cv.style.left = cx + 'px'; cv.style.top = cy + 'px';
  cv.style.width = w + 'px'; cv.style.height = h + 'px';
  document.body.appendChild(cv);
  const yW = l - cx, xH = h - (b - cy);

  new Chart(cv, {
    type: 'line',
    data: {datasets: p.series},
    options: {
      responsive: false,
      animation: false,
      devicePixelRatio: 1,
      events: [],
      layout: {padding: {top: t - cy, right: w - (r - cx), bottom: 0, left: 0}},
      plugins: {
        legend: {display: false},
        tooltip: {enabled: false},
        frame: {
          xMajor: p.xt[0], xMinor: p.xt[1], yMajor: yTicks[p.id][0], yMinor: yTicks[p.id][1],
          letter: p.id, tag: p.tag,
          letterPos: [Lay.letter[0] - cx, Lay.letter[1] - cy], tagPos: [Lay.tag[0] - cx, Lay.tag[1] - cy]
        }
      },
      scales: {
        x: {
          type: 'linear', min: p.range[0], max: p.range[1], reverse: p.reverse,
          grid: {display: false, drawTicks: false}, border: {display: false},
          afterBuildTicks: s => { s.ticks = p.xt[0].map(v => ({value: v})); },
          afterFit: s => { s.height = xH; s.paddingLeft = 0; s.paddingRight = 0; },
          ticks: {
            autoSkip: false, maxRotation: 0, minRotation: 0,
            padding: Math.max(0, Lay.labelY - b - 6), color: '#333',
            font: {family: FONT, size: 10}, callback: v => String(v)
          },
          title: {display: true, text: 'Binding Energy (eV)', padding: 0, color: '#111',
            font: {family: FONT, size: 17, weight: 'bold'}}
        },
        y: {
          type: 'linear', min: 0, max: 100,
          grid: {display: false, drawTicks: false}, border: {display: false},
          ticks: {display: false},
          afterFit: s => { s.width = yW; },
          title: {display: true, text: 'Intensity (A.U)', padding: 0, color: '#111',
            font: {family: FONT, size: 16.5, weight: 'bold'}}
        }
      }
    },
    plugins: [framePlugin]
  });
}

panels.forEach(build);
</script>
</body>
</html>
